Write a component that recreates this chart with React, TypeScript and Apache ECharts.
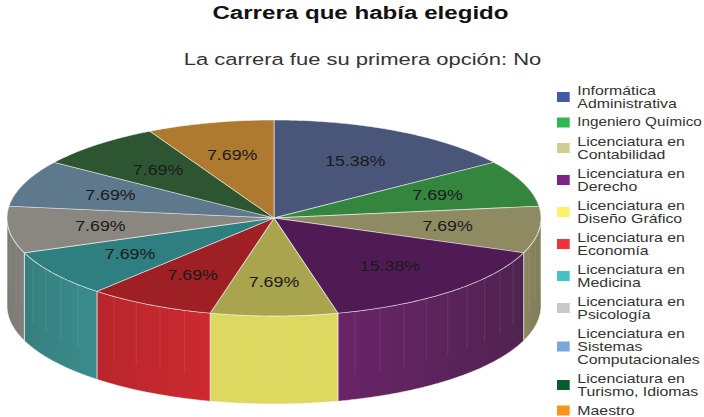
import React, { useEffect, useRef } from "react";
import * as echarts from "echarts";

const titleText = "Carrera que había elegido";
const subtitleText = "La carrera fue su primera opción: No";

const categories = [
  "Informática\nAdministrativa",
  "Ingeniero Químico",
  "Licenciatura en\nContabilidad",
  "Licenciatura en\nDerecho",
  "Licenciatura en\nDiseño Gráfico",
  "Licenciatura en\nEconomía",
  "Licenciatura en\nMedicina",
  "Licenciatura en\nPsicología",
  "Licenciatura en\nSistemas\nComputacionales",
  "Licenciatura en\nTurismo, Idiomas",
  "Maestro",
];
const counts = [2, 1, 1, 2, 1, 1, 1, 1, 1, 1, 1];

const legendColors = ["#3f5aa8", "#2fb84f", "#d1cd93", "#7f2382", "#fbf26a", "#ef3338", "#45c2c4", "#c9c9c9", "#7ba7d8", "#0b5a2e", "#f7941e"];
const topColors = ["#49567a", "#34853e", "#8e8a62", "#501b55", "#a9a44e", "#9f2024", "#2f7f80", "#8a8781", "#5f798c", "#2d5532", "#ad7a2f"];
const sideLeft = ["#49567a", "#34853e", "#8a8762", "#6a2468", "#dcd860", "#b9252c", "#36807f", "#7a7a74", "#5f798c", "#2d5532", "#ad7a2f"];
const sideRight = ["#49567a", "#34853e", "#7f7c58", "#4f2350", "#dcd860", "#cb2a30", "#3a8c8c", "#82827b", "#5f798c", "#2d5532", "#ad7a2f"];

const STRETCH = 1.27;
const WIDTH = 704 / STRETCH;
const HEIGHT = 417;
const CX = 274 / STRETCH;
const CY = 218;
const RX = 267 / STRETCH;
const RY = 98;
const DEPTH = 88;
const LABEL_R = 0.655;
const ARC_STEP = 0.01;
const FONT = "'Liberation Sans', Arial, sans-serif";

const total = counts.reduce((a, b) => a + b, 0);
const px = (t: number) => CX + RX * Math.sin(t);
const py = (t: number) => CY - RY * Math.cos(t);

function arc(start: number, end: number, drop = 0): number[][] {
  const pts: number[][] = [];
  const n = Math.max(2, Math.ceil((end - start) / ARC_STEP));
  for (let i = 0; i <= n; i++) {
    const t = start + ((end - start) * i) / n;
    pts.push([px(t), py(t) + drop]);
  }
  return pts;
}

function makeRender(index: number) {
  const before = counts.slice(0, index).reduce((a, b) => a + b, 0);
  return (_params: any, api: any) => {
    const value = api.value(0);
    const start = (before / total) * Math.PI * 2;
    const end = start + (value / total) * Math.PI * 2;
    const mid = (start + end) / 2;
    const children: any[] = [];

    const visStart = Math.max(start, Math.PI / 2);
    const visEnd = Math.min(end, (Math.PI * 3) / 2);
    if (visEnd > visStart) {
      children.push({
        type: "polygon",
        shape: { points: [...arc(visStart, visEnd), ...arc(visStart, visEnd, DEPTH).reverse()] },
        style: {
          fill: new echarts.graphic.LinearGradient(0, 0, 1, 0, [
            { offset: 0, color: sideLeft[index] },
            { offset: 1, color: sideRight[index] },
          ]),
          stroke: "rgba(255,255,255,0.55)",
          lineWidth: 0.8,
        },
      });
      for (let t = visStart + 0.1; t < visEnd - 0.05; t += 0.1) {
        children.push({
          type: "line",
          shape: { x1: px(t), y1: py(t), x2: px(t), y2: py(t) + DEPTH * 0.72 },
          style: { stroke: "rgba(255,255,255,0.07)", lineWidth: 1 },
        });
      }
    }

    children.push({
      type: "polygon",
      shape: { points: [[CX, CY], ...arc(start, end)] },
      style: { fill: topColors[index], stroke: "rgba(255,255,255,0.55)", lineWidth: 0.8 },
    });

    children.push({
      type: "text",
      x: CX + RX * LABEL_R * Math.sin(mid),
      y: CY - RY * LABEL_R * Math.cos(mid),
      z2: 10,
      style: {
        text: ((value / total) * 100).toFixed(2) + "%",
        fill: "#1a1a1a",
        font: `14px ${FONT}`,
        align: "center",
        verticalAlign: "middle",
      },
    });
    return { type: "group", children };
  };
}

export default function App() {
  const ref = useRef<HTMLDivElement>(null);
  useEffect(() => {
    document.body.style.margin = "0";
    const chart = echarts.init(ref.current!, undefined, { renderer: "svg", width: WIDTH, height: HEIGHT });
    chart.setOption({
      animation: false,
      backgroundColor: "#ffffff",
      color: legendColors,
      title: [
        {
          text: titleText,
          left: 360.5 / STRETCH,
          textAlign: "center",
          top: 3,
          padding: 0,
          textStyle: { fontFamily: FONT, fontSize: 19, fontWeight: "bold", color: "#111111" },
        },
        {
          text: subtitleText,
          left: 362.5 / STRETCH,
          textAlign: "center",
          top: 50,
          padding: 0,
          textStyle: { fontFamily: FONT, fontSize: 17.3, fontWeight: "normal", color: "#333333" },
        },
      ],
      legend: {
        orient: "vertical",
        left: 557 / STRETCH,
        top: 84,
        padding: 0,
        itemWidth: 10,
        itemHeight: 10,
        itemGap: 6,
        icon: "rect",
        data: categories.map((name) =>
          name.includes("\n") || name === "Maestro"
            ? { name }
            : { name, textStyle: { fontSize: 12 } }
        ),
        selectedMode: false,
        textStyle: {
          fontFamily: FONT,
          fontSize: 12.5,
          lineHeight: 13,
          color: "#333333",
          padding: [0, 0, 0, 1],
        },
      },
      series: categories.map((name, i) => ({
        type: "custom",
        name,
        coordinateSystem: "none",
        silent: true,
        itemStyle: { color: legendColors[i] },
        data: [[counts[i]]],
        renderItem: makeRender(i),
      })),
    });
    return () => chart.dispose();
  }, []);
  return (
    <div
      ref={ref}
      style={{
        position: "absolute",
        left: 0,
        top: 0,
        width: WIDTH,
        height: HEIGHT,
        transform: `scaleX(${STRETCH})`,
        transformOrigin: "0 0",
      }}
    />
  );
}
